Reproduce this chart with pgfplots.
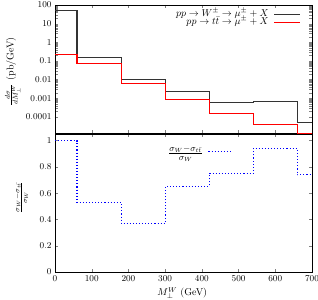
\documentclass[border=0pt]{standalone}
\usepackage{pgfplots}
\pgfplotsset{compat=1.18}
\protected\def\legW{$pp\rightarrow W^{\pm}\rightarrow\mu^{\pm}+X$}
\protected\def\legT{$pp\rightarrow t\bar{t}\rightarrow\mu^{\pm}+X$}
\protected\def\legR{$\frac{\sigma_W-\sigma_{t\bar{t}}}{\sigma_W}$}
\begin{document}
\begin{tikzpicture}
\useasboundingbox (0,0) rectangle (318bp,300bp);
\begin{axis}[at={(55bp,166.5bp)}, anchor=south west, height=128.5bp,
  scale only axis, width=257bp, xmin=0, xmax=700,
  xtick={0,100,...,700}, tick align=inside, major tick length=3bp,
  axis line style={line width=0.6pt},
  tick label style={font=\small},
  ymode=log, ymin=1.28e-5, ymax=100,
  xticklabels={},
  ytick={1e-4,1e-3,1e-2,1e-1,1,10,100},
  yticklabels={0.0001,0.001,0.01,0.1,1,10,100},
  ylabel={$\frac{d\sigma}{dM_\perp^W}$ (pb/GeV)},
  ylabel style={at={(axis description cs:-0.165,0.48)}, anchor=center},
  legend style={draw=none, fill=none, inner sep=0pt, at={(0.955,0.96)}, anchor=north east,
    nodes={inner sep=0pt, text height=6pt, text depth=2.2pt}, column sep=5pt},
  legend cell align=right, legend plot pos=right,
  legend image code/.code={\draw[#1] (0cm,0cm) -- (0.9cm,0cm);},
]
\addplot[const plot, black!80, line width=1.1pt] coordinates {
(0,50) (60,0.16) (180,0.0097) (300,0.0023) (420,0.00062) (540,0.00065) (660,0.000048) (700,0.000048)};
\addlegendentry{\legW}
\addplot[const plot, red, line width=1.1pt] coordinates {
(0,0.23) (60,0.076) (180,0.006) (300,0.00082) (420,0.00016) (540,0.000041) (660,0.0000125) (700,0.0000125)};
\addlegendentry{\legT}
\end{axis}
\begin{axis}[at={(55bp,28bp)}, anchor=south west, height=138bp,
  scale only axis, width=257bp, xmin=0, xmax=700,
  xtick={0,100,...,700}, tick align=inside, major tick length=3bp,
  axis line style={line width=0.6pt},
  tick label style={font=\small},
  ymin=0, ymax=1.05,
  ytick={0,0.2,0.4,0.6,0.8,1},
  yticklabels={0,0.2,0.4,0.6,0.8,1},
  xlabel={$M_\perp^W$ (GeV)},
  xlabel style={at={(axis description cs:0.495,-0.152)}, anchor=center},
  ylabel={\legR},
  ylabel style={at={(axis description cs:-0.13,0.54)}, anchor=center},
  legend style={draw=none, fill=none, inner sep=0pt, at={(0.44,0.87)}, anchor=west,
    nodes={inner sep=0pt, font=\fontsize{13}{15}\selectfont}, column sep=5pt},
  legend cell align=right, legend plot pos=right,
  legend image code/.code={\draw[#1] (0cm,0cm) -- (0.8cm,0cm);},
]
\addplot[const plot, blue, dotted, line width=1.1pt] coordinates {
(0,1.0) (60,0.53) (180,0.37) (300,0.65) (420,0.75) (540,0.94) (660,0.74) (700,0.74)};
\addlegendentry{\legR}
\end{axis}
\end{tikzpicture}
\end{document}
